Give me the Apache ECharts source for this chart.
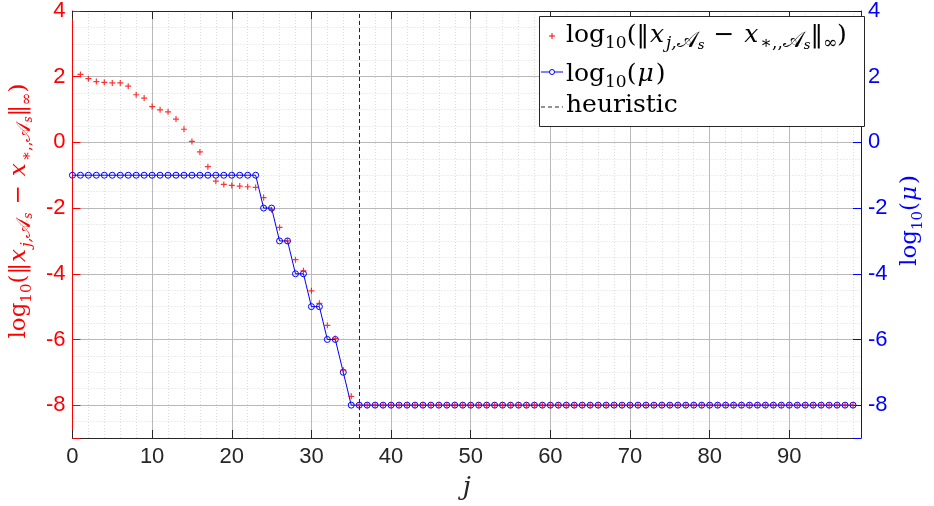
<!DOCTYPE html>
<html><head><meta charset="utf-8">
<script src="https://cdn.jsdelivr.net/npm/echarts@6/dist/echarts.min.js"></script>
<style>html,body{margin:0;padding:0;background:#fff}#c{width:934px;height:506px}</style>
</head><body><div id="c"></div>
<script>
// ---- data ----
const errStartJ = 1; // first j of the error series
const errValues = [
  2.07, 1.94, 1.85, 1.83, 1.81, 1.81, 1.71, 1.45, 1.35, 1.09,
  0.99, 0.93, 0.71, 0.40, 0.03, -0.29, -0.74, -1.18, -1.28, -1.31,
  -1.33, -1.35, -1.37, -1.68, -2.05, -2.59, -3.00, -3.57, -3.91, -4.52,
  -4.90, -5.57, -5.97, -6.93, -7.73,
  -8, -8, -8, -8, -8, -8, -8, -8, -8, -8,
  -8, -8, -8, -8, -8, -8, -8, -8, -8, -8,
  -8, -8, -8, -8, -8, -8, -8, -8, -8, -8,
  -8, -8, -8, -8, -8, -8, -8, -8, -8, -8,
  -8, -8, -8, -8, -8, -8, -8, -8, -8, -8,
  -8, -8, -8, -8, -8, -8, -8, -8, -8, -8,
  -8, -8, -8
];
const muStartJ = 0;
const muValues = [
  -1, -1, -1, -1, -1, -1, -1, -1, -1, -1,
  -1, -1, -1, -1, -1, -1, -1, -1, -1, -1,
  -1, -1, -1, -1, -2, -2, -3, -3, -4, -4,
  -5, -5, -6, -6, -7, -8, -8, -8, -8, -8,
  -8, -8, -8, -8, -8, -8, -8, -8, -8, -8,
  -8, -8, -8, -8, -8, -8, -8, -8, -8, -8,
  -8, -8, -8, -8, -8, -8, -8, -8, -8, -8,
  -8, -8, -8, -8, -8, -8, -8, -8, -8, -8,
  -8, -8, -8, -8, -8, -8, -8, -8, -8, -8,
  -8, -8, -8, -8, -8, -8, -8, -8, -8
];
const heuristicJ = 36;
const xRange = [0, 99];
const xMajorStep = 10, xMinorStep = 2;
const yRange = [-9, 4];
const yMajorStep = 2, yMinorStep = 0.5;
const legendNames = ['err', 'mu', 'heuristic'];

// ---- styles ----
const RED = '#ff0000', BLUE = '#0000ff', INK = '#262626';
const GRID_MAJOR = '#b9b9b9', GRID_MINOR = '#dcdcdc';
const SERIF = 'DejaVu Serif', SANS = 'Liberation Sans';

function richSet(size, color) {
  const lh = Math.round(size * 1.36);
  const sub = Math.round(size * 0.66);
  const sub2 = Math.round(size * 0.5);
  const subLH = Math.round(size * 0.74);
  return {
    n:  {fontFamily: SERIF, fontSize: size, color, lineHeight: lh, verticalAlign: 'middle'},
    i:  {fontFamily: SERIF, fontStyle: 'italic', fontSize: size, color, lineHeight: lh, verticalAlign: 'middle', padding: [0, Math.round(size * 0.08), 0, Math.round(size * 0.04)]},
    m:  {fontFamily: SERIF, fontSize: size, color, lineHeight: lh, verticalAlign: 'middle', padding: [0, Math.round(size * 0.36)]},
    s:  {fontFamily: SERIF, fontSize: sub, color, lineHeight: subLH, verticalAlign: 'bottom'},
    si: {fontFamily: SERIF, fontStyle: 'italic', fontSize: sub, color, lineHeight: subLH, verticalAlign: 'bottom'},
    ca: {fontFamily: SERIF, fontSize: Math.round(size * 0.86), color, lineHeight: subLH, verticalAlign: 'bottom'},
    ss: {fontFamily: SERIF, fontStyle: 'italic', fontSize: sub2, color, lineHeight: Math.round(size * 0.42), verticalAlign: 'bottom'}
  };
}
const errLabel = '{n|log}{s|10}{n|(‖}{i|x}{si|j,}{ca|𝒜}{ss|s}{m|−}{i|x}{s|∗,,}{ca|𝒜}{ss|s}{n|‖}{s|∞}{n|)}';
const muLabel = '{n|log}{s|10}{n|(}{i|μ}{n|)}';

const errData = errValues.map((v, k) => [errStartJ + k, v]);
const muData = muValues.map((v, k) => [muStartJ + k, v]);

const chart = echarts.init(document.getElementById('c'), null, {renderer: 'canvas'});

const hidden = {axisLine: {show: false, onZero: false}, axisTick: {show: false}, axisLabel: {show: false}};

const option = {
  animation: false,
  backgroundColor: '#ffffff',
  grid: {left: 69, top: 11, width: 801, height: 427},
  xAxis: [
    {
      type: 'value', position: 'bottom', min: xRange[0], max: xRange[1],
      splitNumber: 10, minInterval: xMajorStep, maxInterval: xMajorStep, z: 1,
      axisLine: {onZero: false, lineStyle: {color: INK, width: 1}},
      axisTick: {inside: true, length: 8, lineStyle: {color: INK}},
      axisLabel: {color: INK, fontSize: 22, fontFamily: SANS, margin: 8,
        formatter: v => (v % xMajorStep === 0 && v < xRange[1]) ? String(v) : ''},
      splitLine: {show: true, lineStyle: {color: GRID_MAJOR, width: 1}},
      name: 'j', nameLocation: 'middle', nameGap: 37,
      nameTextStyle: {fontFamily: SERIF, fontStyle: 'italic', fontSize: 26, color: INK}
    },
    {
      type: 'value', position: 'top', min: xRange[0], max: xRange[1],
      splitNumber: 10, minInterval: xMajorStep, maxInterval: xMajorStep, z: 1,
      axisLine: {onZero: false, lineStyle: {color: INK, width: 1}},
      axisTick: {inside: true, length: 8, lineStyle: {color: INK}},
      axisLabel: {show: false}, splitLine: {show: false}
    },
    Object.assign({
      type: 'value', position: 'bottom', min: xRange[0], max: xRange[1],
      splitNumber: 50, minInterval: xMinorStep, maxInterval: xMinorStep, z: 0,
      splitLine: {show: true, lineStyle: {color: GRID_MINOR, width: 1, type: [1, 2]}}
    }, hidden)
  ],
  yAxis: [
    {
      type: 'value', position: 'left', min: yRange[0], max: yRange[1],
      splitNumber: 6, minInterval: yMajorStep, maxInterval: yMajorStep, z: 1,
      axisLine: {onZero: false, lineStyle: {color: RED, width: 1}},
      axisTick: {inside: true, length: 8, lineStyle: {color: RED}},
      axisLabel: {color: RED, fontSize: 22, fontFamily: SANS, margin: 7,
        formatter: v => (v % yMajorStep === 0) ? String(v) : ''},
      splitLine: {show: true, lineStyle: {color: GRID_MAJOR, width: 1}},
      name: errLabel, nameLocation: 'middle', nameRotate: 90, nameGap: 31,
      nameTextStyle: {color: RED, fontFamily: SERIF, fontSize: 23, padding: [0, 0, 0, 27], rich: richSet(23, RED)}
    },
    {
      type: 'value', position: 'right', min: yRange[0], max: yRange[1],
      splitNumber: 6, minInterval: yMajorStep, maxInterval: yMajorStep, z: 1,
      axisLine: {onZero: false, lineStyle: {color: BLUE, width: 1}},
      axisTick: {inside: true, length: 8, lineStyle: {color: BLUE}},
      axisLabel: {color: BLUE, fontSize: 22, fontFamily: SANS, margin: 7,
        formatter: v => (v % yMajorStep === 0) ? String(v) : ''},
      splitLine: {show: false},
      name: muLabel, nameLocation: 'middle', nameRotate: 90, nameGap: 34,
      nameTextStyle: {color: BLUE, fontFamily: SERIF, fontSize: 23, padding: [0, 0, 0, 8], rich: richSet(23, BLUE)}
    },
    Object.assign({
      type: 'value', position: 'left', min: yRange[0], max: yRange[1],
      splitNumber: 26, minInterval: yMinorStep, maxInterval: yMinorStep, z: 0,
      splitLine: {show: true, lineStyle: {color: GRID_MINOR, width: 1, type: [1, 2]}}
    }, hidden)
  ],
  series: [
    {
      name: legendNames[1], type: 'line', xAxisIndex: 0, yAxisIndex: 1, z: 3,
      data: muData, showAllSymbol: true,
      symbol: 'circle', symbolSize: 6,
      lineStyle: {color: BLUE, width: 1},
      itemStyle: {color: 'rgba(255,255,255,0)', borderColor: BLUE, borderWidth: 1},
      markLine: {
        silent: true, symbol: ['none', 'none'], label: {show: false},
        lineStyle: {color: INK, width: 1, type: [4, 3]},
        data: [{xAxis: heuristicJ}]
      }
    },
    {
      name: legendNames[0], type: 'scatter', xAxisIndex: 0, yAxisIndex: 0, z: 4,
      data: errData,
      symbol: 'path://M2,0L3,0L3,5L2,5Z M0,2L5,2L5,3L0,3Z', symbolSize: 6,
      itemStyle: {color: RED}
    }
  ],
  graphic: [
    {type: 'rect', z: 100, shape: {x: 539.5, y: 16.5, width: 325, height: 110},
     style: {fill: '#ffffff', stroke: INK, lineWidth: 1}},
    {type: 'line', z: 101, shape: {x1: 549, y1: 36, x2: 555, y2: 36}, style: {stroke: RED, lineWidth: 1}},
    {type: 'line', z: 101, shape: {x1: 552, y1: 33, x2: 552, y2: 39}, style: {stroke: RED, lineWidth: 1}},
    {type: 'text', z: 101, x: 566, y: 35,
     style: {text: errLabel, rich: richSet(25, '#000000'), verticalAlign: 'middle', align: 'left'}},
    {type: 'line', z: 101, shape: {x1: 541, y1: 72, x2: 563, y2: 72}, style: {stroke: BLUE, lineWidth: 1}},
    {type: 'circle', z: 102, shape: {cx: 552, cy: 72, r: 2.5}, style: {fill: '#ffffff', stroke: BLUE, lineWidth: 1}},
    {type: 'text', z: 101, x: 566, y: 74,
     style: {text: muLabel, rich: richSet(25, '#000000'), verticalAlign: 'middle', align: 'left'}},
    {type: 'line', z: 101, shape: {x1: 541, y1: 107, x2: 563, y2: 107}, style: {stroke: INK, lineWidth: 1, lineDash: [4, 3]}},
    {type: 'text', z: 101, x: 566, y: 105,
     style: {text: 'heuristic', fontFamily: SERIF, fontSize: 25, fill: '#000000', verticalAlign: 'middle', align: 'left'}}
  ]
};
chart.setOption(option);
</script>
</body></html>
